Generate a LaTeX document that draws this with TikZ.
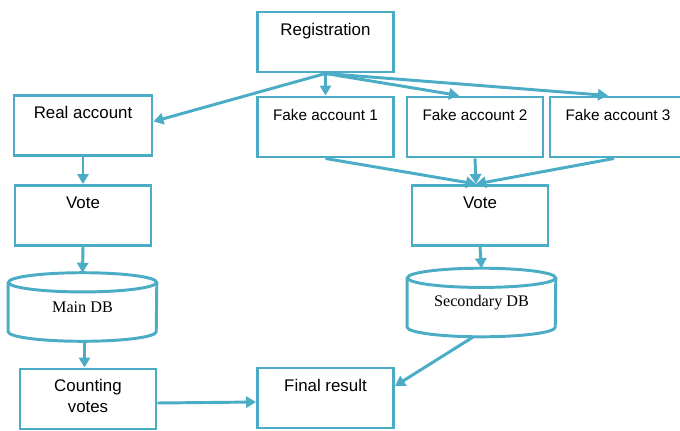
\documentclass[tikz,border=0pt]{standalone}
\usepackage{fontspec}
\setmainfont{Liberation Sans}
\newfontfamily\dbfont{Liberation Serif}
\usetikzlibrary{arrows.meta}
\definecolor{aqua}{RGB}{75,172,198}
\tikzset{
	box/.style = {draw=aqua, line width=2.1pt, rectangle, inner sep=0pt, minimum width=3.4cm, minimum height=1.5cm, text height=0.575cm, text depth=0.925cm, font=\fontsize{12}{14.9}\selectfont},
	small/.style = {font=\fontsize{10.9}{13}\selectfont},
	db/.style = {rectangle, inner sep=0pt, minimum width=3.7cm, minimum height=1.7cm, font=\dbfont\fontsize{11.5}{13}\selectfont},
	dbline/.style = {draw=aqua, line width=2.1pt},
	link/.style = {draw=aqua, line width=2.1pt, -{Triangle[length=2.5mm,width=2.8mm]}},
}
% cylinder outline round a db node
\newcommand{\drawdb}[1]{%
	\draw [dbline] ([yshift=-0.24cm]#1.north west) -- ([yshift=0.24cm]#1.south west)
		arc [start angle=180, end angle=360, x radius=1.85cm, y radius=0.24cm] -- ([yshift=-0.24cm]#1.north east);
	\draw [dbline] ([yshift=-0.24cm]#1.north) ellipse [x radius=1.85cm, y radius=0.24cm];
}

\begin{document}
\begin{tikzpicture}[x=0.025cm, y=-0.025cm]
		\useasboundingbox (0,0) rectangle (680,430);
		\clip (0,0) rectangle (680,430);
		%
		\node (reg) [box] at (325.5,42) {Registration};
		\node (real) [box, minimum width=3.45cm] at (83,125.5) {Real account};
		\node (fake1) [box, small] at (325.5,127) {Fake account 1};
		\node (fake2) [box, small] at (475,127) {Fake account 2};
		\node (fake3) [box, small] at (618,127) {Fake account 3};
		%
		\node (vote1) [box] at (83,215.5) {Vote};
		\node (vote2) [box] at (480,215.5) {Vote};
		\node (maindb) [db] at (82.5,307) {Main DB};
		\node (secdb) [db] at (481.5,302.5) {Secondary DB};
		\drawdb{maindb}
		\drawdb{secdb}
		%
		\node (count) [box, align=center, text height=1.075cm, text depth=0.425cm] at (88,399) {Counting\\votes};
		\node (final) [box] at (325.5,398) {Final result};
		%
		\draw [link] (reg.south) -- ([yshift=0.1cm]real.east);
		\draw [link] (reg.south) -- (fake1.north);
		\draw [link] (reg.south) -- ([xshift=-0.4cm]fake2.north);
		\draw [link] (reg.south) -- ([xshift=-0.25cm]fake3.north);
		%
		\coordinate (join) at ([xshift=-0.1cm]vote2.north);
		\draw [link] (fake1.south) -- (join);
		\draw [link] (fake2.south) -- (join);
		\draw [link] ([xshift=-0.1cm]fake3.south) -- (join);
		%
		\draw [link] (real.south) -- (vote1.north);
		\draw [link] (vote1.south) -- (maindb.north);
		\draw [link] ([xshift=0.05cm]maindb.south) -- ([xshift=0.05cm]maindb.south |- count.north);
		\draw [link] (vote2.south) -- (secdb.north);
		\draw [link] ([xshift=-0.2cm]secdb.south) -- ([yshift=0.3cm]final.east);
		\draw [link] ([yshift=-0.1cm]count.east) -- ([yshift=-0.1cm]final.west);
	\end{tikzpicture}
\end{document}
